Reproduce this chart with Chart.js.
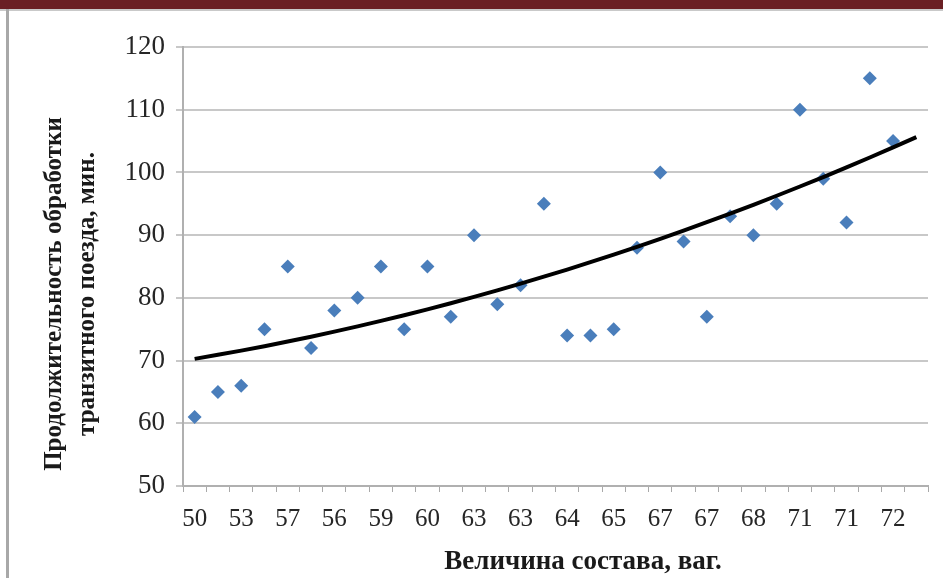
<!DOCTYPE html>
<html>
<head>
<meta charset="utf-8">
<script src="https://cdn.jsdelivr.net/npm/chart.js@4.4.1/dist/chart.umd.min.js"></script>
<style>
  html, body { margin: 0; padding: 0; background: #fff; }
  #wrap { position: relative; width: 943px; height: 578px; overflow: hidden; }
  #topbar { position: absolute; left: 0; top: 0; width: 943px; height: 9px; background: #6a1f24; }
  #topshade { position: absolute; left: 0; top: 9px; width: 943px; height: 2px; background: #c9c9c9; }
  #leftline { position: absolute; left: 6px; top: 9px; width: 3px; height: 569px; background: #a8a8a8; }
  canvas { position: absolute; left: 0; top: 0; }
</style>
</head>
<body>
<div id="wrap">
  <canvas id="chart" width="943" height="578"></canvas>
  <div id="topbar"></div>
  <div id="topshade"></div>
  <div id="leftline"></div>
</div>
<script>
"use strict";

// Values.
const xLabels = ["50", "53", "57", "56", "59", "60", "63", "63", "64", "65", "67", "67", "68", "71", "71", "72"];
const durations = [61, 65, 66, 75, 85, 72, 78, 80, 85, 75, 85, 77, 90, 79, 82, 95,
                   74, 74, 75, 88, 100, 89, 77, 93, 90, 95, 110, 99, 92, 115, 105];
const yMin = 50;
const yMax = 120;
const yStep = 10;
const xTitle = "Величина состава, ваг.";
const yTitle = ["Продолжительность обработки", "транзитного поезда, мин."];
const forecastSteps = 1; // trend goes one category past the last point

// One category per point (+ forecast), label shown on every second one.
const nCats = durations.length + forecastSteps;
const categories = [];
for (let i = 0; i < nCats; i++) {
  categories.push(i % 2 === 0 && xLabels[i / 2] !== undefined ? xLabels[i / 2] : "");
}

// Second order polynomial trend (least squares), like Excel's trendline.
const polyFit2 = (ys) => {
  const s = [0, 0, 0, 0, 0];
  const t = [0, 0, 0];
  ys.forEach((y, x) => {
    for (let k = 0; k < 5; k++) s[k] += Math.pow(x, k);
    for (let k = 0; k < 3; k++) t[k] += y * Math.pow(x, k);
  });
  const det3 = (m) =>
    m[0][0] * (m[1][1] * m[2][2] - m[1][2] * m[2][1]) -
    m[0][1] * (m[1][0] * m[2][2] - m[1][2] * m[2][0]) +
    m[0][2] * (m[1][0] * m[2][1] - m[1][1] * m[2][0]);
  const M = [[s[0], s[1], s[2]], [s[1], s[2], s[3]], [s[2], s[3], s[4]]];
  const D = det3(M);
  const coef = [0, 1, 2].map((c) => {
    const Mc = M.map((row, r) => row.map((v, j) => (j === c ? t[r] : v)));
    return det3(Mc) / D;
  });
  return (x) => coef[0] + coef[1] * x + coef[2] * x * x;
};

const trendFn = polyFit2(durations);
const trendValues = categories.map((_, i) => trendFn(i));

const serif = "'Liberation Serif', 'Times New Roman', serif";

// Axis titles drawn where the picture has them.
const axisTitles = {
  id: "axisTitles",
  afterDraw(chart) {
    const c = chart.ctx;
    c.save();
    c.fillStyle = "#1a1a1a";
    c.textAlign = "center";
    c.textBaseline = "middle";
    c.font = "bold 27px " + serif;
    c.fillText(xTitle, 583, 562);
    c.font = "bold 25px " + serif;
    c.translate(0, 294);
    c.rotate(-Math.PI / 2);
    c.fillText(yTitle[0], 0, 55);
    c.fillText(yTitle[1], 0, 88);
    c.restore();
  },
};

const ctx = document.getElementById("chart");

const myChart = new Chart(ctx, {
  type: "line",
  data: {
    labels: categories,
    datasets: [
      {
        label: "trend",
        data: trendValues,
        borderColor: "#000000",
        borderWidth: 4,
        pointRadius: 0,
        tension: 0,
        fill: false,
      },
      {
        label: "points",
        data: durations,
        showLine: false,
        pointStyle: "rectRot",
        pointRadius: 7,
        pointBackgroundColor: "#4a7ebb",
        pointBorderColor: "#4a7ebb",
        pointBorderWidth: 0,
      },
    ],
  },
  options: {
    responsive: false,
    animation: false,
    layout: { padding: { left: 10, right: 15, top: 47, bottom: 0 } },
    plugins: {
      legend: { display: false },
      tooltip: { enabled: false },
    },
    scales: {
      x: {
        type: "category",
        offset: true,
        grid: {
          offset: true,
          drawOnChartArea: false,
          drawTicks: true,
          tickLength: 6,
          color: "#a9a9a9",
        },
        border: { color: "#b0b0b0", width: 2 },
        ticks: {
          autoSkip: false,
          maxRotation: 0,
          padding: 12,
          color: "#262626",
          font: { family: serif, size: 25 },
        },
        afterFit: (s) => { s.height = 578 - 486; },
      },
      y: {
        min: yMin,
        max: yMax,
        grid: { color: "#c8c8c8", lineWidth: 2, tickLength: 7 },
        border: { color: "#b0b0b0", width: 2 },
        ticks: {
          stepSize: yStep,
          padding: 11,
          color: "#262626",
          font: { family: serif, size: 27 },
        },
        afterFit: (s) => { s.width = 183 - 10; },
      },
    },
  },
  plugins: [axisTitles],
});
</script>
</body>
</html>
